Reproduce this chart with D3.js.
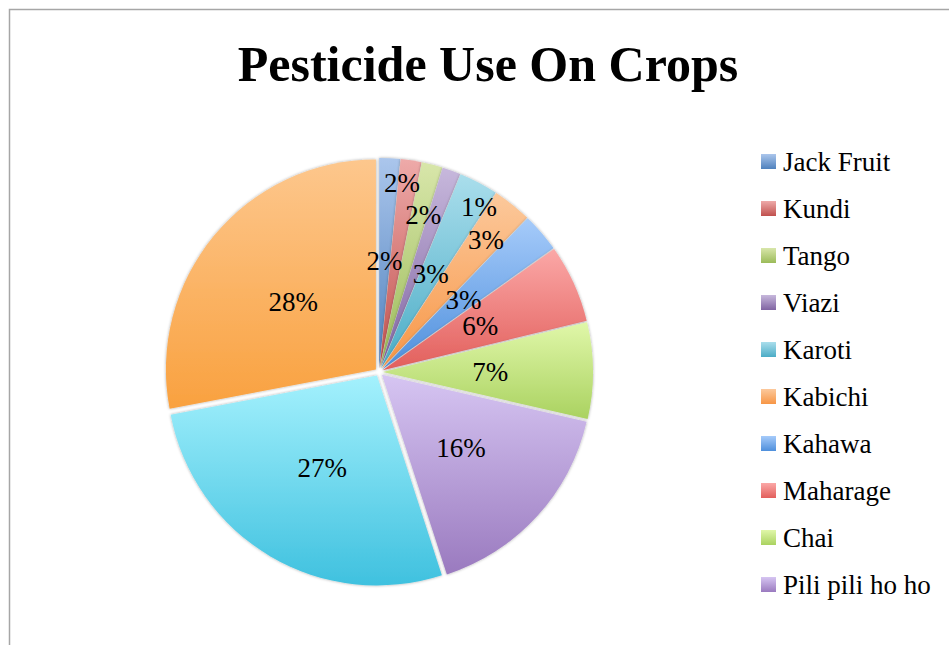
<!DOCTYPE html>
<html>
<head>
<meta charset="utf-8">
<script src="https://cdn.jsdelivr.net/npm/d3@7"></script>
<style>
  body { margin: 0; background: #fff; }
  text { font-family: "Liberation Serif", "DejaVu Serif", serif; fill: #000; }
</style>
</head>
<body>
<div id="piechart"></div>
<script>
// crops and their share (percent), clockwise from 12 o'clock
var crops = ["Jack Fruit", "Kundi", "Tango", "Viazi", "Karoti", "Kabichi",
             "Kahawa", "Maharage", "Chai", "Pili pili ho ho", "Category 11", "Category 12"];
var shares = [1.6, 1.6, 1.6, 1.4, 3.0, 3.0, 3.0, 6.0, 7.4, 16.4, 27.0, 28.0];
// only the first ten fit in the legend box
var legendCount = 10;

// gradient stops (top, bottom) per slice
var lightColors = ["#abc6ec", "#eeaaa9", "#d8e6aa", "#c7b8dc", "#aadeec", "#fcc99c",
                   "#a6cbfa", "#fba8a7", "#e0f7a9", "#d6c5f2", "#a4f1fd", "#fdc78d"];
var darkColors  = ["#4f81bd", "#c0504d", "#9bbb59", "#8064a2", "#4bacc6", "#f79646",
                   "#4e8fdc", "#e25f5c", "#aad260", "#9a7abf", "#3fc1df", "#f9a13f"];

var width = 949, height = 645;
var cx = 379, cy = 372, radius = 210, explode = 4;

// labels Excel pushed out of the crowded small slices: angle (deg), radius factor
var labelMoves = {
  "Kundi":   {angle: 6.9,  r: 0.91},
  "Tango":   {angle: 15.7, r: 0.78},
  "Viazi":   {angle: 31.2, r: 0.92},
  "Kabichi": {angle: 39,   r: 0.81}
};

var data = crops.map(function(c, i) { return {name: c, value: shares[i], i: i}; });
var total = d3.sum(shares);

var svg = d3.select("#piechart").append("svg")
    .attr("width", width)
    .attr("height", height);

var defs = svg.append("defs");

data.forEach(function(d) {
  var g = defs.append("linearGradient")
      .attr("id", "grad" + d.i)
      .attr("x1", 0).attr("y1", 0).attr("x2", 0).attr("y2", 1);
  g.append("stop").attr("offset", "0%").attr("stop-color", lightColors[d.i]);
  g.append("stop").attr("offset", "100%").attr("stop-color", darkColors[d.i]);
});

var shadow = defs.append("filter")
    .attr("id", "shadow")
    .attr("x", "-20%").attr("y", "-20%").attr("width", "140%").attr("height", "140%");
shadow.append("feDropShadow")
    .attr("dx", 0).attr("dy", 0)
    .attr("stdDeviation", 1.8)
    .attr("flood-color", "#000")
    .attr("flood-opacity", 0.35);

// chart frame
svg.append("rect")
    .attr("x", 9.5).attr("y", 9.5)
    .attr("width", width + 20).attr("height", height + 20)
    .attr("fill", "none")
    .attr("stroke", "#a6a6a6")
    .attr("stroke-width", 1.5);

// title
svg.append("text")
    .attr("x", 488)
    .attr("y", 81)
    .attr("text-anchor", "middle")
    .style("font-size", "50px")
    .style("font-weight", "bold")
    .text("Pesticide Use On Crops");

var pie = d3.pie()
    .sort(null)
    .value(function(d) { return d.value; });

var arc = d3.arc()
    .innerRadius(0)
    .outerRadius(radius);

var arcs = pie(data);

var pieG = svg.append("g")
    .attr("transform", "translate(" + cx + "," + cy + ")");

pieG.selectAll(".slice")
  .data(arcs)
  .enter()
  .append("path")
    .attr("class", "slice")
    .attr("d", arc)
    .attr("fill", function(d) { return "url(#grad" + d.data.i + ")"; })
    .attr("filter", "url(#shadow)")
    .attr("transform", function(d) {
      var a = (d.startAngle + d.endAngle) / 2;
      return "translate(" + (Math.sin(a) * explode) + "," + (-Math.cos(a) * explode) + ")";
    });

// percent labels
pieG.selectAll(".pct")
  .data(arcs)
  .enter()
  .append("text")
    .attr("class", "pct")
    .attr("text-anchor", "middle")
    .attr("dy", "0.35em")
    .style("font-size", "27px")
    .attr("transform", function(d) {
      var a = (d.startAngle + d.endAngle) / 2, r = 0.53 * radius;
      var mv = labelMoves[d.data.name];
      if (mv) { a = mv.angle * Math.PI / 180; r = mv.r * radius; }
      return "translate(" + (Math.sin(a) * r) + "," + (-Math.cos(a) * r) + ")";
    })
    .text(function(d) { return Math.round(d.data.value / total * 100) + "%"; });

// legend
var legendY = d3.scaleLinear().domain([0, 1]).range([162, 209]);
var legend = svg.selectAll(".legend")
  .data(data.slice(0, legendCount))
  .enter()
  .append("g")
    .attr("class", "legend")
    .attr("transform", function(d, i) { return "translate(761," + legendY(i) + ")"; });

legend.append("rect")
    .attr("x", 0)
    .attr("y", -8)
    .attr("width", 15)
    .attr("height", 15)
    .attr("fill", function(d) { return "url(#grad" + d.i + ")"; });

legend.append("text")
    .attr("x", 22)
    .attr("y", 9)
    .style("font-size", "27px")
    .text(function(d) { return d.name; });
</script>
</body>
</html>
